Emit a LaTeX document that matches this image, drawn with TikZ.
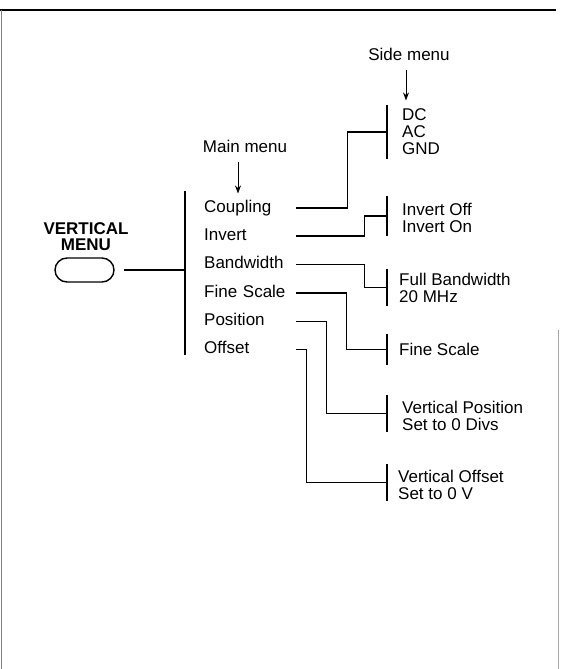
\documentclass[tikz,border=0pt]{standalone}
\usepackage{fontspec}
\setmainfont{Liberation Sans}
\usetikzlibrary{arrows.meta, positioning, calc}

\begin{document}
\begin{tikzpicture}[x=1pt, y=-1pt, >={Stealth[length=8pt, width=6pt]},
        item/.style={anchor=base west, inner sep=0pt, text width=92pt, text height=12pt, text depth=4pt, font=\fontsize{17}{17}\selectfont},
        opts/.style={inner sep=0pt, align=left, font=\fontsize{17}{17}\selectfont},
        lbl/.style={inner sep=0pt, font=\fontsize{17}{17}\selectfont},
        wire/.style={line width=1.8pt},
        bar/.style={line width=2.2pt}]
        \useasboundingbox (0,0) rectangle (560,669);
        % Frame
        \draw[line width=1.5pt] (0,10) -- (556,10);
        \draw[line width=1.2pt, gray] (1.5,10) -- (1.5,669);
        \draw[line width=1pt, gray!70] (558.5,330) -- (558.5,669);

        % Vertical menu button
        \node[align=center, inner sep=0pt, font=\bfseries\fontsize{17}{16}\selectfont] (vmlbl) at (86,237) {VERTICAL\\MENU};
        \node[draw, line width=1.4pt, rounded corners=12pt, minimum width=59pt, minimum height=24pt] (menubtn) at (84.5,270) {};

        % Main menu
        \draw[bar] (185,191) -- coordinate (mainbar) (185,355);
        \draw[wire, shorten <=9pt] (menubtn.east) -- (menubtn.east -| mainbar);
        \node[item] (coupling) at (204,212) {Coupling};
        \node[item] (invert) at (204,240) {Invert};
        \node[item] (bandwidth) at (204,268.5) {Bandwidth};
        \node[item] (finescale) at (204,297) {Fine Scale};
        \node[item] (position) at (204,325.5) {Position};
        \node[item] (offset) at (204,353.5) {Offset};
        \node[lbl] (mainlbl) at (245,146) {Main menu};
        \draw[->, line width=0.8pt, shorten <=10pt] ([xshift=-7pt]mainlbl.south) -- ++(0,41);

        % Side menus
        \foreach \name/\top/\bot in {sdc/105/159, sinv/196/236, sbw/269/306, sfine/334/365, spos/395/432, soff/464/501} {
            \draw[bar] (387,\top) -- coordinate (\name) (387,\bot);
        }
        \node[lbl] (sidelbl) at (409,54) {Side menu};
        \draw[->, line width=0.8pt, shorten <=10pt] ([xshift=-3pt]sidelbl.south) -- ++(0,40);
        \node[opts, right=15pt of sdc] (dcopts) {DC\\AC\\GND};
        \node[opts, right=15pt of sinv, yshift=-2pt] (invopts) {Invert Off\\Invert On};
        \node[opts, right=12pt of sbw] (bwopts) {Full Bandwidth\\20 MHz};
        \node[opts, right=12pt of sfine] (fineopts) {Fine Scale};
        \node[opts, right=15pt of spos, yshift=-2pt] (posopts) {Vertical Position\\Set to 0 Divs};
        \node[opts, right=11pt of soff, yshift=-2pt] (offopts) {Vertical Offset\\Set to 0 V};

        % Connectors
        \draw[wire] (coupling.east) -- ++(51,0) |- (sdc);
        \draw[wire] (invert.east) -- ++(68,0) |- (sinv);
        \draw[wire] (bandwidth.east) -- ++(68,0) |- (sbw);
        \draw[wire] (finescale.east) -- ++(50,0) |- (sfine);
        \draw[wire] (position.east) -- ++(30,0) |- (spos);
        \draw[wire] (offset.east) -- ++(10,0) |- (soff);
    \end{tikzpicture}
\end{document}
